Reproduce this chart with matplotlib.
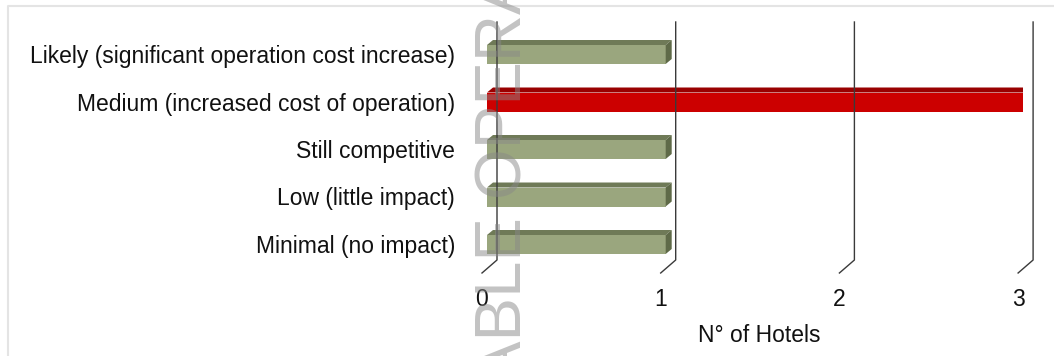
import matplotlib
matplotlib.use("Agg")
import matplotlib.pyplot as plt
from matplotlib.patches import Polygon, Rectangle
from matplotlib.lines import Line2D
from matplotlib.transforms import offset_copy

plt.rcParams['font.family'] = ['Liberation Sans', 'DejaVu Sans']

# ---- data ----
categories = ["Minimal (no impact)", "Low (little impact)", "Still competitive",
              "Medium (increased cost of operation)",
              "Likely (significant operation cost increase)"]
values = [1, 1, 1, 3, 1]
highlight = "Medium (increased cost of operation)"
xticks = [0, 1, 2, 3]
xlabel = "N° of Hotels"
watermark = "ABLE OPERA"

# ---- styles ----
green_front, green_top, green_side = "#9aa67e", "#6f7a57", "#5f6a48"
red_front, red_top, red_side = "#cc0000", "#990000", "#8c0000"
grid_color = "#3a3a3a"

W, H = 1054, 356
fig = plt.figure(figsize=(W / 100, H / 100), dpi=100)

px_x = 178.7   # pixels per x unit
px_y = 47.5    # pixels per category
x0_px = 487
ax_bottom_px = 87.75
ax = fig.add_axes([x0_px / W, ax_bottom_px / H, 3 * px_x / W, 5 * px_y / H])
ax.set_xlim(0, 3)
ax.set_ylim(-0.5, 4.5)
ax.axis('off')

# 3D depth offsets (data units)
dx = 6 / px_x
dy = 5 / px_y
bar_h = 19 / px_y

def ydata(pix_from_top):
    return (H - pix_from_top - ax_bottom_px) / px_y - 0.5

back_off = 10 / px_x
front_off = -5 / px_x
y_top = ydata(22)
y_wall = ydata(260)
y_front = ydata(273)

# bars
for i, (cat, v) in enumerate(zip(categories, values)):
    if cat == highlight:
        cf, ct, cs = red_front, red_top, red_side
    else:
        cf, ct, cs = green_front, green_top, green_side
    yb, yt = i - bar_h / 2, i + bar_h / 2
    ax.add_patch(Rectangle((0, yb), v, bar_h, facecolor=cf, edgecolor='none', zorder=2))
    ax.add_patch(Polygon([(0, yt), (v, yt), (v + dx, yt + dy), (dx, yt + dy)],
                         closed=True, facecolor=ct, edgecolor='none', zorder=2))
    ax.add_patch(Polygon([(v, yb), (v + dx, yb + dy), (v + dx, yt + dy), (v, yt)],
                         closed=True, facecolor=cs, edgecolor='none', zorder=2))
    ax.text(0, i, cat, transform=offset_copy(ax.transData, fig, x=-32, y=-2, units='dots'),
            ha='right', va='center', fontsize=16.5, color='#111111')

# gridlines (back wall + floor diagonal)
for t in xticks:
    ax.plot([t + back_off, t + back_off, t + front_off], [y_top, y_wall, y_front],
            color=grid_color, lw=1.0, zorder=3, clip_on=False)
    ax.text(t + front_off, ydata(300), str(t), ha='center', va='center',
            fontsize=16.5, color='#111111')

fig.text(759 / W, 1 - 335 / H, xlabel, ha='center', va='center',
         fontsize=16.5, color='#111111')

# chart frame
fig.add_artist(Line2D([8 / W, 8 / W, 1.0], [0, 1 - 6 / H, 1 - 6 / H],
                      transform=fig.transFigure, color='#e4e4e4', lw=1.5))

# watermark
fig.text(522 / W, 1 - 177 / H, watermark, rotation=90, rotation_mode='anchor',
         ha='center', va='baseline', fontsize=47, color='#888888', alpha=0.5, zorder=10)

fig.savefig("out.png", dpi=100)
